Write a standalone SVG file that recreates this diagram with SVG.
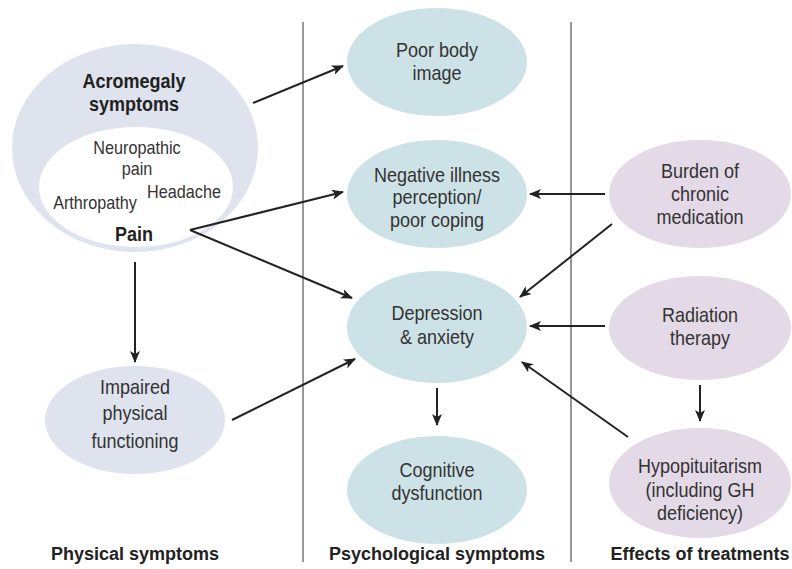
<svg xmlns="http://www.w3.org/2000/svg" width="792" height="569" viewBox="0 0 792 569">
<style>
.t{font-family:"Liberation Sans",Arial,sans-serif;font-size:20px;fill:#333;text-anchor:middle}
.s{font-size:18px}
.b{font-weight:bold;fill:#222}
.f{font-size:18px}
.phys{fill:#dee3ee}
.psy{fill:#cde2e6}
.trt{fill:#e3d9e7}
.c{stroke:#222;stroke-width:2;fill:none;marker-end:url(#ah)}
.div{stroke:#555;stroke-width:1.2}
</style>
<defs>
<marker id="ah" viewBox="0 0 12 10" refX="11" refY="5" markerWidth="12" markerHeight="10" markerUnits="userSpaceOnUse" orient="auto">
<path d="M0,0 L12,5 L0,10 L3,5 Z" fill="#222"/>
</marker>
</defs>
<g id="dividers">
<line class="div" x1="303" y1="22" x2="303" y2="562"/>
<line class="div" x1="571" y1="22" x2="571" y2="562"/>
</g>
<g id="acromegaly">
<ellipse class="phys" cx="135" cy="148" rx="123" ry="104"/>
<ellipse cx="136" cy="187" rx="97" ry="60" fill="#fff"/>
<text class="t b" transform="translate(134,88) scale(0.9,1)">Acromegaly</text>
<text class="t b" transform="translate(134,111) scale(0.9,1)">symptoms</text>
<text class="t s" transform="translate(137,154) scale(0.9,1)">Neuropathic</text>
<text class="t s" transform="translate(137,175) scale(0.9,1)">pain</text>
<text class="t s" transform="translate(95,209) scale(0.9,1)">Arthropathy</text>
<text class="t s" transform="translate(184,198) scale(0.9,1)">Headache</text>
<text class="t b" transform="translate(134,241) scale(0.9,1)">Pain</text>
</g>
<g id="impaired">
<ellipse class="phys" cx="135" cy="420" rx="90" ry="54"/>
<text class="t" transform="translate(135,394) scale(0.9,1)">Impaired</text>
<text class="t" transform="translate(135,420) scale(0.9,1)">physical</text>
<text class="t" transform="translate(135,448) scale(0.9,1)">functioning</text>
</g>
<g id="body-image">
<ellipse class="psy" cx="437" cy="62" rx="90" ry="54"/>
<text class="t" transform="translate(437,57) scale(0.9,1)">Poor body</text>
<text class="t" transform="translate(437,80) scale(0.9,1)">image</text>
</g>
<g id="illness">
<ellipse class="psy" cx="437" cy="194" rx="90" ry="54"/>
<text class="t" transform="translate(437,182) scale(0.9,1)">Negative illness</text>
<text class="t" transform="translate(437,204) scale(0.9,1)">perception/</text>
<text class="t" transform="translate(437,227) scale(0.9,1)">poor coping</text>
</g>
<g id="depression">
<ellipse class="psy" cx="437" cy="327" rx="90" ry="56"/>
<text class="t" transform="translate(437,320) scale(0.9,1)">Depression</text>
<text class="t" transform="translate(437,344) scale(0.9,1)">&amp; anxiety</text>
</g>
<g id="cognitive">
<ellipse class="psy" cx="437" cy="490" rx="90" ry="54"/>
<text class="t" transform="translate(437,477) scale(0.9,1)">Cognitive</text>
<text class="t" transform="translate(437,500) scale(0.9,1)">dysfunction</text>
</g>
<g id="burden">
<ellipse class="trt" cx="700" cy="194" rx="91" ry="54"/>
<text class="t" transform="translate(700,178) scale(0.9,1)">Burden of</text>
<text class="t" transform="translate(700,201) scale(0.9,1)">chronic</text>
<text class="t" transform="translate(700,224) scale(0.9,1)">medication</text>
</g>
<g id="radiation">
<ellipse class="trt" cx="700" cy="328" rx="91" ry="52"/>
<text class="t" transform="translate(700,322) scale(0.9,1)">Radiation</text>
<text class="t" transform="translate(700,345) scale(0.9,1)">therapy</text>
</g>
<g id="hypo">
<ellipse class="trt" cx="700" cy="483" rx="91" ry="55"/>
<text class="t" transform="translate(700,473) scale(0.9,1)">Hypopituitarism</text>
<text class="t" transform="translate(700,497) scale(0.9,1)">(including GH</text>
<text class="t" transform="translate(700,520) scale(0.9,1)">deficiency)</text>
</g>
<g id="labels">
<text class="t b f" x="135" y="560">Physical symptoms</text>
<text class="t b f" x="437" y="560">Psychological symptoms</text>
<text class="t b f" x="700" y="560">Effects of treatments</text>
</g>
<g id="connectors">
<line class="c" x1="253" y1="103" x2="343" y2="66"/>
<line class="c" x1="190" y1="230" x2="343" y2="192"/>
<line class="c" x1="190" y1="230" x2="352" y2="298"/>
<line class="c" x1="135" y1="262" x2="135" y2="362"/>
<line class="c" x1="232" y1="420" x2="355" y2="359"/>
<line class="c" x1="437" y1="388" x2="437" y2="425"/>
<line class="c" x1="605" y1="194" x2="530" y2="194"/>
<line class="c" x1="612" y1="224" x2="520" y2="297"/>
<line class="c" x1="605" y1="326" x2="530" y2="326"/>
<line class="c" x1="700" y1="385" x2="700" y2="421"/>
<line class="c" x1="628" y1="437" x2="522" y2="362"/>
</g>
</svg>
